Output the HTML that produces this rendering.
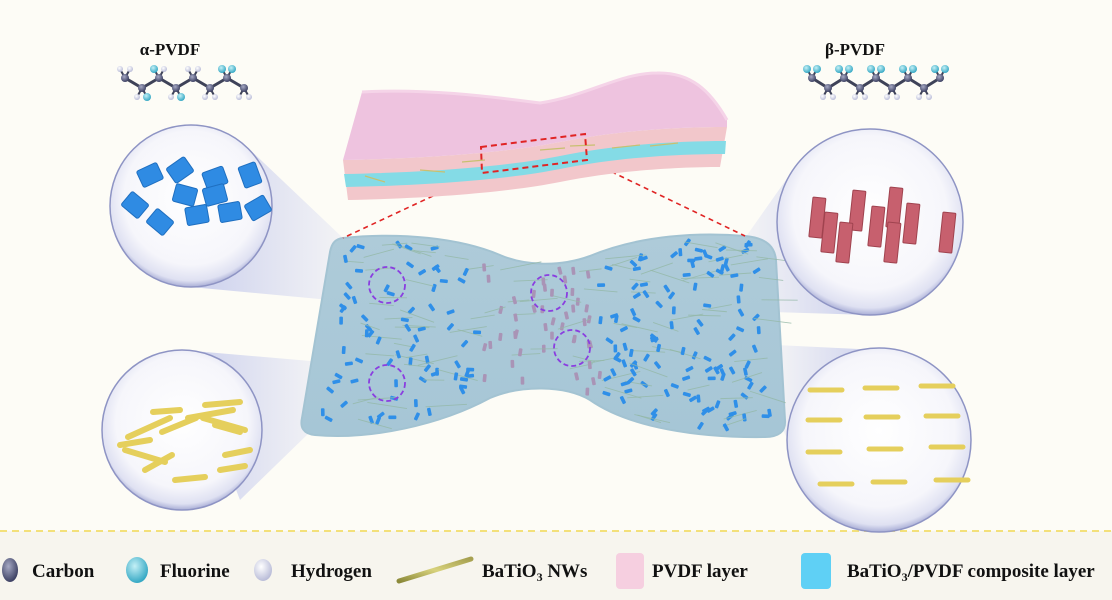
<!DOCTYPE html>
<html><head><meta charset="utf-8"><style>
html,body{margin:0;padding:0;background:#fdfcf6;}
svg{display:block;font-family:"Liberation Serif",serif;}
</style></head><body>
<svg id="s" width="1112" height="600" viewBox="0 0 1112 600" xmlns="http://www.w3.org/2000/svg">
<defs>
<radialGradient id="bub" cx="50%" cy="45%" r="55%">
<stop offset="0" stop-color="#ffffff"/><stop offset="0.75" stop-color="#f6f6fb"/><stop offset="0.93" stop-color="#dfe1f2"/><stop offset="1" stop-color="#a9aed6"/></radialGradient>
<linearGradient id="coneL" x1="0" x2="1"><stop offset="0" stop-color="#b8bfe9" stop-opacity="0.75"/><stop offset="1" stop-color="#c8cdf0" stop-opacity="0.2"/></linearGradient>
<linearGradient id="coneR" x1="1" x2="0"><stop offset="0" stop-color="#b8bfe9" stop-opacity="0.75"/><stop offset="1" stop-color="#c8cdf0" stop-opacity="0.2"/></linearGradient>
<radialGradient id="gC" cx="40%" cy="35%" r="65%"><stop offset="0" stop-color="#a6a9c4"/><stop offset="1" stop-color="#3d4163"/></radialGradient>
<radialGradient id="gF" cx="40%" cy="35%" r="65%"><stop offset="0" stop-color="#c4f0f6"/><stop offset="1" stop-color="#35a8c4"/></radialGradient>
<radialGradient id="gH" cx="40%" cy="35%" r="65%"><stop offset="0" stop-color="#ffffff"/><stop offset="1" stop-color="#b9bcd8"/></radialGradient>
<linearGradient id="rod" x1="0" y1="1" x2="1" y2="0"><stop offset="0" stop-color="#8c8a3a"/><stop offset="0.5" stop-color="#d8d27c"/><stop offset="1" stop-color="#a6a050"/></linearGradient>
<linearGradient id="slab" x1="0" y1="0" x2="0" y2="1"><stop offset="0" stop-color="#aecbd9"/><stop offset="1" stop-color="#a6c6d6"/></linearGradient>
</defs>
<rect x="0" y="531" width="1112" height="69" fill="#f7f5ee"/>
<line x1="0" y1="531" x2="1112" y2="531" stroke="#f3e07a" stroke-width="2" stroke-dasharray="7,5"/>

<polygon points="245,145 343,238 330,300 191,287" fill="url(#coneL)"/>
<polygon points="182,350 322,362 310,432 240,500" fill="url(#coneL)"/>
<polygon points="800,160 745,238 772,312 870,315" fill="url(#coneR)"/>
<polygon points="879,350 776,345 782,428 820,505" fill="url(#coneR)"/>

<path id="slabp" d="M343,238 C400,232 460,238 500,255 C525,266 560,267 590,256 C640,235 700,232 745,236 C770,238 775,250 776,260 L785,420 C786,432 778,437 765,437 C700,438 630,428 590,400 C565,385 520,385 490,398 C440,425 370,440 315,435 C303,434 300,427 302,418 L330,252 C332,242 336,239 343,238 Z" fill="url(#slab)" stroke="#a3c3d2" stroke-width="2"/>
<g id="scat"></g>
<g fill="none" stroke="#8a3ee0" stroke-width="1.8" stroke-dasharray="5,3">
<circle cx="387" cy="285" r="18"/><circle cx="549" cy="293" r="18"/><circle cx="572" cy="348" r="18"/><circle cx="387" cy="383" r="18"/></g>

<g stroke="#e02424" stroke-width="1.6" stroke-dasharray="5,4" fill="none">
<line x1="482" y1="173" x2="343" y2="238"/><line x1="587" y1="160" x2="745" y2="236"/></g>

<path d="M343,160 C450,158 520,150 560,142 C620,130 680,127 727,127 L720,167 C680,167 620,170 560,182 C520,190 450,198 348,200 Z" fill="#f2c7cb"/>
<path d="M344,174 C450,172 520,164 560,156 C620,144 680,141 726,141 L725,154 C680,154 620,157 560,169 C520,177 450,185 346,187 Z" fill="#84dbe6"/>
<path d="M362,92 C430,88 500,98 540,103 C590,95 620,73 657,73 C690,72 710,90 727,120 L727,127 C680,127 620,130 560,142 C520,150 450,158 343,160 Z" fill="#eec3df"/>
<path d="M362,92 C430,88 500,98 540,103 C590,95 620,73 657,73 C690,72 710,90 727,120" fill="none" stroke="#f5d4e8" stroke-width="3"/>
<g stroke="#c8c070" stroke-width="1.2"><line x1="365" y1="176" x2="385" y2="182"/><line x1="420" y1="170" x2="445" y2="172"/><line x1="462" y1="162" x2="485" y2="160"/><line x1="540" y1="150" x2="565" y2="148"/><line x1="570" y1="146" x2="595" y2="145"/><line x1="612" y1="148" x2="640" y2="145"/><line x1="650" y1="146" x2="678" y2="143"/></g>
<polygon points="481,147 585,134 587,160 482,173" fill="none" stroke="#e02424" stroke-width="2" stroke-dasharray="6,4"/>

<circle cx="191" cy="206" r="81" fill="url(#bub)" stroke="#8e94c4" stroke-width="1.5"/>
<circle cx="182" cy="430" r="80" fill="url(#bub)" stroke="#8e94c4" stroke-width="1.5"/>
<circle cx="870" cy="222" r="93" fill="url(#bub)" stroke="#8e94c4" stroke-width="1.5"/>
<circle cx="879" cy="440" r="92" fill="url(#bub)" stroke="#8e94c4" stroke-width="1.5"/>
<g id="inner"></g>
<g id="mol"></g>

<text x="170" y="55" font-size="17" font-weight="bold" text-anchor="middle" fill="#111">α-PVDF</text>
<text x="855" y="55" font-size="17" font-weight="bold" text-anchor="middle" fill="#111">β-PVDF</text>

<g font-size="19" font-weight="bold" fill="#111">
<ellipse cx="10" cy="570" rx="8" ry="12" fill="url(#gC)"/><text x="32" y="577">Carbon</text>
<ellipse cx="137" cy="570" rx="11" ry="13" fill="url(#gF)"/><text x="160" y="577">Fluorine</text>
<ellipse cx="263" cy="570" rx="9" ry="11" fill="url(#gH)"/><text x="291" y="577">Hydrogen</text>
<line x1="399" y1="581" x2="471" y2="559" stroke="url(#rod)" stroke-width="5" stroke-linecap="round"/>
<text x="482" y="577">BaTiO<tspan font-size="12" dy="4">3</tspan><tspan dy="-4"> NWs</tspan></text>
<rect x="616" y="553" width="28" height="36" rx="4" fill="#f6cfe0"/><text x="652" y="577">PVDF layer</text>
<rect x="801" y="553" width="30" height="36" rx="4" fill="#5fd0f5"/><text x="847" y="577">BaTiO<tspan font-size="12" dy="4">3</tspan><tspan dy="-4">/PVDF composite layer</tspan></text>
</g>
</svg>
<script>
(function(){
var NS="http://www.w3.org/2000/svg";
function el(p,n,a){var e=document.createElementNS(NS,n);for(var k in a)e.setAttribute(k,a[k]);p.appendChild(e);return e;}
var seed=7;function r(){seed=(seed*16807)%2147483647;return seed/2147483647;}
var sc=document.getElementById('scat'),path=document.getElementById('slabp');
function inside(x,y){var p=document.getElementById('s').createSVGPoint();p.x=x;p.y=y;return path.isPointInFill?path.isPointInFill(p):true;}
var n=0;
for(var i=0;i<2000&&n<330;i++){var x=305+r()*480,y=240+r()*195;if(!inside(x,y))continue;
 if(!inside(x-14,y)||!inside(x+14,y)||!inside(x,y-6)||!inside(x,y+6))continue;
 n++;
 var t=r();
 if(t<0.3){var L=20+r()*22,a=(r()*40-20)*Math.PI/180;
  el(sc,'line',{x1:x,y1:y,x2:x+L*Math.cos(a),y2:y+L*Math.sin(a),stroke:'#94b8a6','stroke-width':0.9,'stroke-opacity':0.8});}
 else{var purple=(x>480&&x<600);var ang=r()*180;
  el(sc,'rect',{x:x-1.8,y:y-4,width:3.6,height:8,rx:1,fill:purple?'#a994b6':'#2f8fe8',transform:'rotate('+(purple?(r()*30-15):ang)+' '+x+' '+y+')'});}
}
var g=document.getElementById('inner');
var pl=[[150,175,-25],[180,170,-35],[215,178,-20],[250,175,70],[135,205,40],[160,222,40],[197,215,-10],[230,212,-10],[258,208,-30],[185,195,15],[215,195,-15]];
pl.forEach(function(q){el(g,'rect',{x:q[0]-11,y:q[1]-9,width:22,height:18,rx:2,fill:'#2f8be3',stroke:'#1f6fc0','stroke-width':1,transform:'rotate('+q[2]+' '+q[0]+' '+q[1]+')'});});
var rd=[[128,437,170,418],[153,412,180,410],[162,432,196,418],[205,405,240,402],[188,418,233,410],[203,418,245,430],[215,425,240,432],[125,450,165,462],[145,470,172,455],[175,480,205,477],[225,455,250,450],[120,445,150,440],[220,470,245,466]];
rd.forEach(function(q){el(g,'line',{x1:q[0],y1:q[1],x2:q[2],y2:q[3],stroke:'#e5cf5c','stroke-width':6,'stroke-linecap':'round'});});
var bp=[[813,197],[825,212],[853,190],[872,206],[890,187],[907,203],[840,222],[888,222],[943,212]];
bp.forEach(function(q){el(g,'rect',{x:q[0],y:q[1],width:13,height:40,rx:1,fill:'#c7606e',stroke:'#a0434f','stroke-width':1,transform:'rotate(6 '+q[0]+' '+q[1]+')'});});
[[810,390],[865,388],[921,386],[808,420],[866,417],[926,416],[808,452],[869,449],[931,447],[820,484],[873,482],[936,480]].forEach(function(q){
 el(g,'line',{x1:q[0],y1:q[1],x2:q[0]+32,y2:q[1],stroke:'#e5cf5c','stroke-width':5,'stroke-linecap':'round'});});
var m=document.getElementById('mol');
function chain(x0,y0,n,dx,beta){var pts=[];for(var i=0;i<n;i++)pts.push([x0+i*dx,y0+(i%2?10:0)]);
 for(var i=0;i<n-1;i++)el(m,'line',{x1:pts[i][0],y1:pts[i][1],x2:pts[i+1][0],y2:pts[i+1][1],stroke:'#3e4258','stroke-width':3});
 pts.forEach(function(p,i){var up=(i%2==0);var subs=[[-5,up?-9:9],[5,up?-9:9]];
  subs.forEach(function(s,j){var isF=beta?(up):(r()<0.5);var sx=p[0]+s[0],sy=p[1]+s[1];
   el(m,'line',{x1:p[0],y1:p[1],x2:sx,y2:sy,stroke:'#3e4258','stroke-width':2});
   el(m,'circle',{cx:sx,cy:sy,r:isF?4:3,fill:isF?'url(#gF)':'url(#gH)'});});});
 pts.forEach(function(p){el(m,'circle',{cx:p[0],cy:p[1],r:4,fill:'url(#gC)'});});}
chain(125,78,8,17,false);chain(812,78,9,16,true);
})();
</script>
</body></html>
